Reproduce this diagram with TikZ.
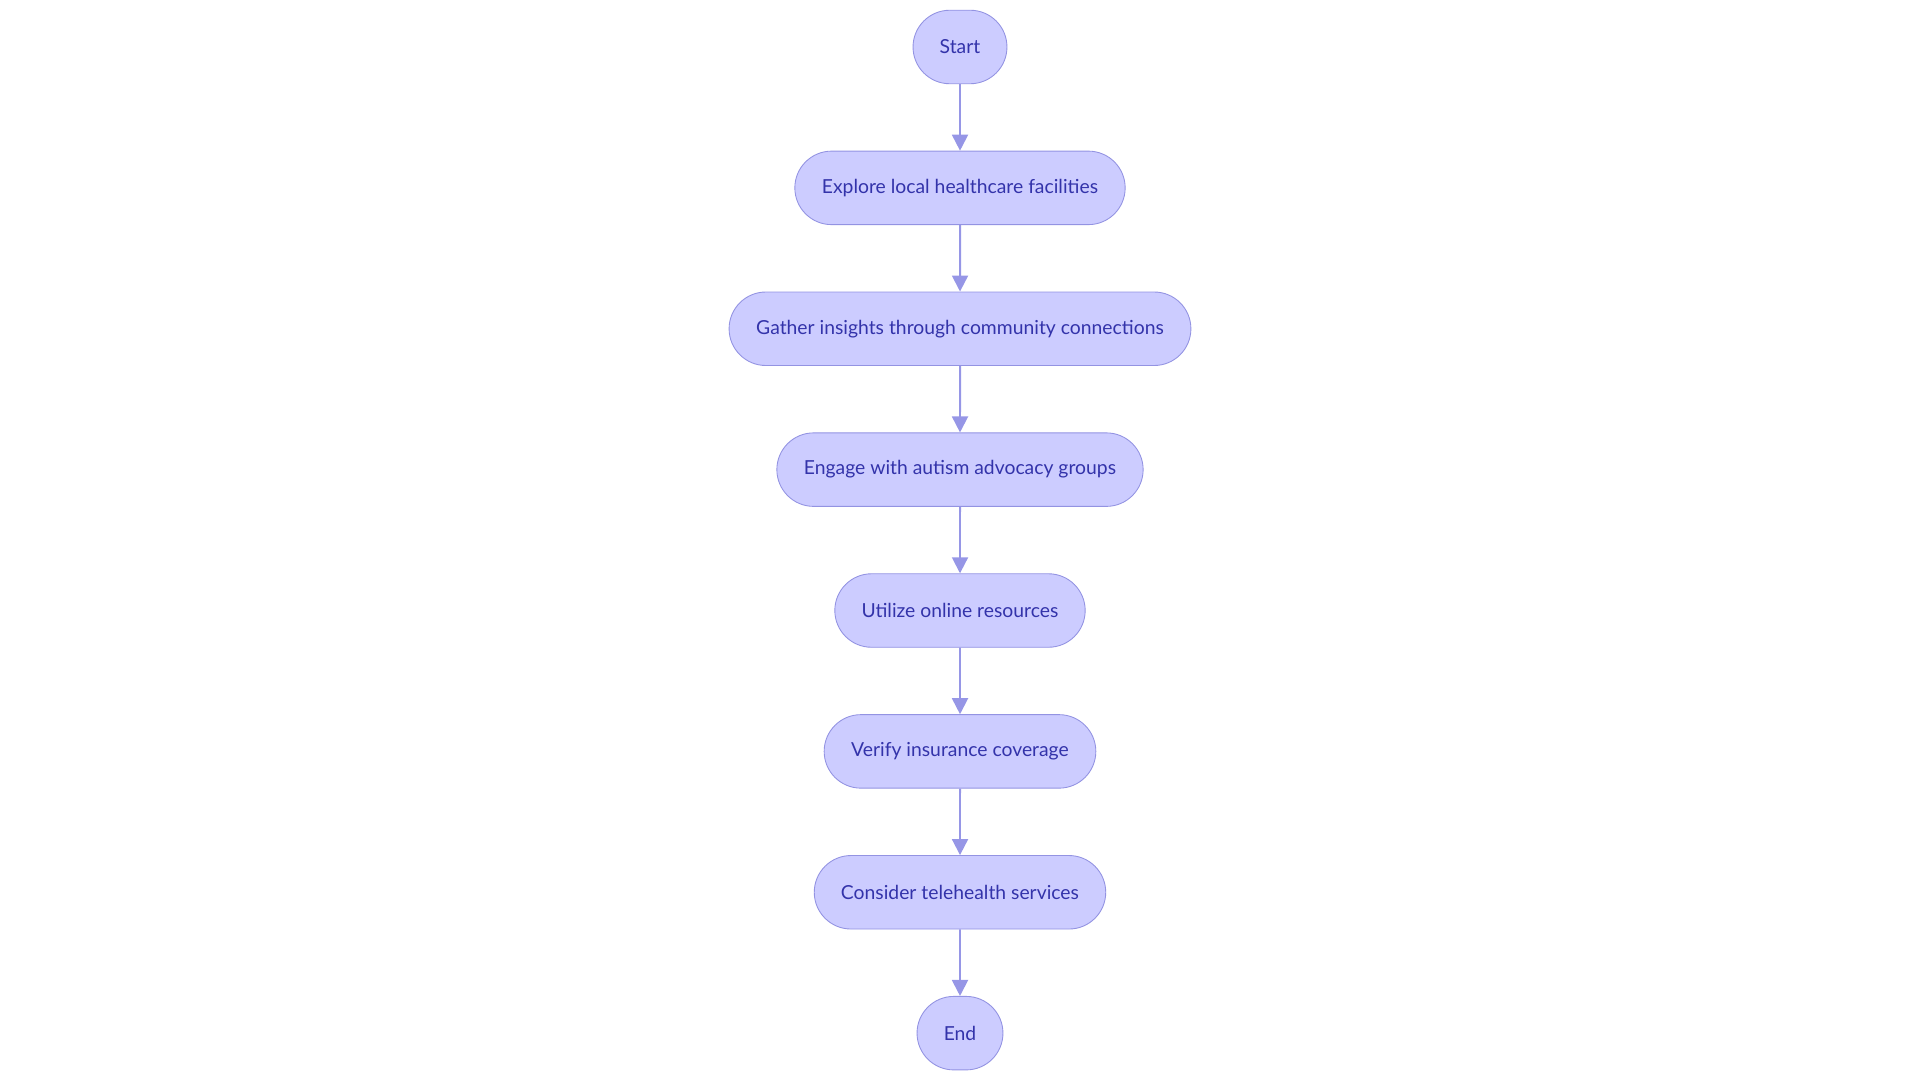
\documentclass[tikz,border=0pt]{standalone}
\usepackage{fontspec}
\setmainfont{Lato}
\usepackage{tikz}
\usetikzlibrary{arrows.meta,shapes.misc,positioning}
\definecolor{stepfill}{RGB}{204,204,255}
\definecolor{stepdraw}{RGB}{147,147,226}
\definecolor{steptext}{RGB}{51,51,170}
\definecolor{linkcol}{RGB}{150,150,230}
\tikzset{
  stepbox/.style={rounded rectangle, draw=stepdraw, fill=stepfill, line width=0.5pt,
    text=steptext, minimum height=1.47cm, inner xsep=0.52cm, font=\fontsize{11}{13}\selectfont},
  link/.style={-{Triangle[length=0.32cm,width=0.32cm]}, line width=1.1pt, draw=linkcol, fill=linkcol}
}
\begin{document}
\begin{tikzpicture}[node distance=1.33cm]
\node[stepbox] (start) {Start};
\node[stepbox, below=of start] (explore) {Explore local healthcare facilities};
\node[stepbox, below=of explore] (gather) {Gather insights through community connections};
\node[stepbox, below=of gather] (engage) {Engage with autism advocacy groups};
\node[stepbox, below=of engage] (utilize) {Utilize online resources};
\node[stepbox, below=of utilize] (verify) {Verify insurance coverage};
\node[stepbox, below=of verify] (consider) {Consider telehealth services};
\node[stepbox, below=of consider] (end) {End};

\draw[link] (start) -- (explore);
\draw[link] (explore) -- (gather);
\draw[link] (gather) -- (engage);
\draw[link] (engage) -- (utilize);
\draw[link] (utilize) -- (verify);
\draw[link] (verify) -- (consider);
\draw[link] (consider) -- (end);

\useasboundingbox ([shift={(-19.2cm,0.94cm)}]start.center) rectangle ([shift={(19.2cm,-20.66cm)}]start.center);
\end{tikzpicture}
\end{document}
